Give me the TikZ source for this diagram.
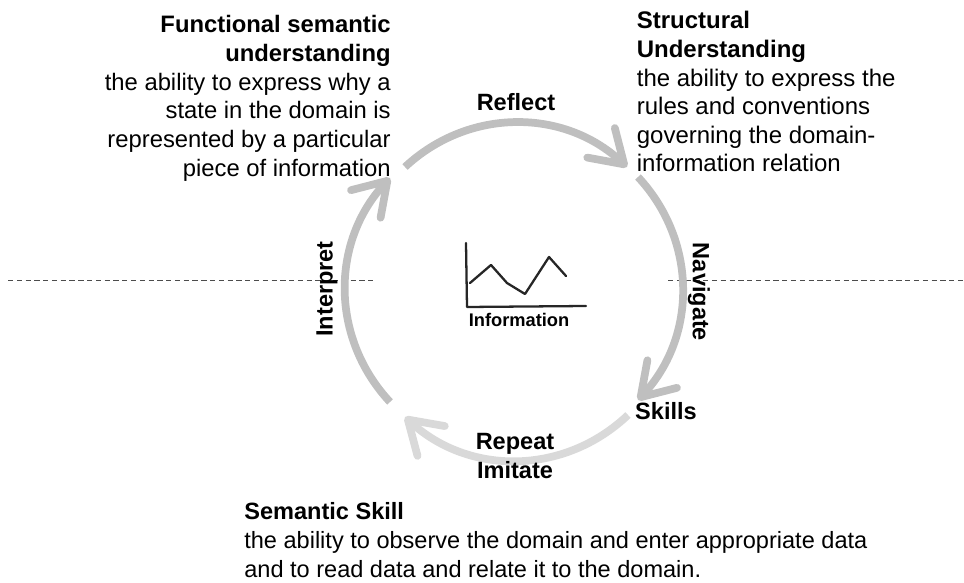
\documentclass[tikz,border=0pt]{standalone}
\usepackage{fontspec}
\setmainfont{Liberation Sans}
\usetikzlibrary{arrows.meta,positioning}
\tikzset{
	cycle arc/.style={line width=4.4pt,color=black!25,-{Straight Barb[length=18pt,width=23pt,round,line width=4.4pt]}},
	label big/.style={font=\fontsize{13.4}{16.1}\selectfont\bfseries,align=center,inner sep=0pt},
	desc text/.style={inner sep=0pt},
	level line/.style={thin,densely dashed,color=black!70},
	sketch line/.style={line width=1.3pt,color=black!85,line join=round,line cap=round}
}
\begin{document}
\begin{tikzpicture}[x=0.02cm,y=0.02cm]
	\useasboundingbox (0,0) rectangle (964,582);
	\coordinate (left a) at (8,302);
	\coordinate (left b) at (376,302);
	\coordinate (right a) at (668,302);
	\coordinate (right b) at (964,302);
	\draw[level line] (left a)--(left b);
	\draw[level line] (right a)--(right b);
	% circle pieces
	\coordinate (reflect a) at (405,415);
	\coordinate (reflect b) at (627,415);
	\coordinate (navigate a) at (638,405);
	\coordinate (navigate b) at (638,182);
	\coordinate (repeat a) at (628,167);
	\coordinate (repeat b) at (405,165);
	\coordinate (interpret a) at (390,180);
	\coordinate (interpret b) at (390,404);
	\draw[cycle arc] (reflect a) to[bend left=43] (reflect b);
	\draw[cycle arc] (navigate a) to[bend left=43] (navigate b);
	\draw[cycle arc,color=black!15] (repeat a) to[bend left=43] (repeat b);
	\draw[cycle arc] (interpret a) to[bend left=43] (interpret b);
	% labels on the circle
	\node[label big] (reflect) at (516,480) {Reflect};
	\node[label big,rotate=-90] (navigate) at (699,290) {Navigate};
	\node[label big] (skills) at (666,171) {Skills};
	\node[label big] (repeat) at (515,126) {Repeat\\Imitate};
	\node[label big,rotate=90] (interpret) at (327,293) {Interpret};
	% small chart
	\coordinate (chart top) at (466,339);
	\coordinate (chart corner) at (467,275);
	\coordinate (chart end) at (586,276);
	\draw[sketch line] (chart top)--(chart corner)--(chart end);
	\draw[sketch line] (470,299)--(491,317)--(507,299)--(525,288)--(549,325)--(566,306);
	\node[font=\fontsize{10.4}{12}\selectfont\bfseries,inner sep=0pt] (information) at (519,262) {Information};
	% texts
	\node[desc text,font=\fontsize{13.55}{16.35}\selectfont,anchor=north east,align=right] (functional) at (391,567) {\textbf{Functional semantic}\\\textbf{understanding}\\the ability to express why a\\state in the domain is\\represented by a particular\\piece of information};
	\node[desc text,font=\fontsize{13.65}{16.3}\selectfont,anchor=north west,align=left] (structural) at (636.5,571) {\textbf{Structural}\\\textbf{Understanding}\\the ability to express the\\rules and conventions\\governing the domain-\\information relation};
	\node[desc text,font=\fontsize{13.4}{16.55}\selectfont,anchor=north west,align=left] (semantic) at (244,80) {\textbf{Semantic Skill}\\the ability to observe the domain and enter appropriate data\\and to read data and relate it to the domain.};
\end{tikzpicture}
\end{document}
